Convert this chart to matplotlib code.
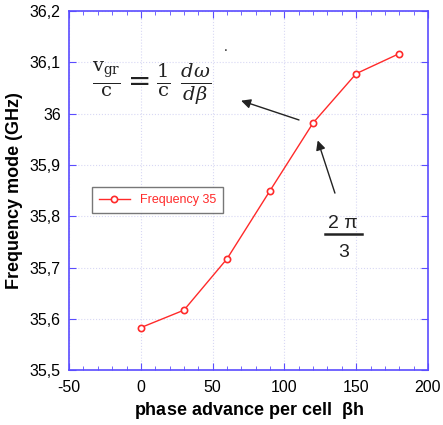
import matplotlib.pyplot as plt
from matplotlib.ticker import FuncFormatter, MultipleLocator

plt.rcParams['font.family'] = ['Liberation Sans', 'DejaVu Sans']
plt.rcParams['mathtext.fontset'] = 'dejavuserif'

# phase advance (deg) and frequency (GHz)
phase = [0, 30, 60, 90, 120, 150, 180]
freq = [35.583, 35.617, 35.717, 35.850, 35.982, 36.078, 36.117]
series_name = 'Frequency 35'

spine_col = '#5a4cff'
red = '#ff2a2a'
dark = '#222222'

fig = plt.figure(figsize=(4.43, 4.25), dpi=100)
ax = fig.add_axes([0.156, 0.129, 0.810, 0.845])

ax.plot(phase, freq, color=red, lw=1, marker='o', ms=4.5, mfc='white',
        mec=red, mew=1.2, label=series_name)

ax.set_xlim(-50, 200)
ax.set_ylim(35.5, 36.2)
ax.xaxis.set_major_locator(MultipleLocator(50))
ax.xaxis.set_minor_locator(MultipleLocator(10))
ax.yaxis.set_major_locator(MultipleLocator(0.1))

def comma(v, pos):
    s = ('%.1f' % v).rstrip('0').rstrip('.')
    return s.replace('.', ',')

ax.xaxis.set_major_formatter(FuncFormatter(comma))
ax.yaxis.set_major_formatter(FuncFormatter(comma))

ax.grid(True, which='major', color='#d8d8f4', ls=':', lw=0.8)
for s in ax.spines.values():
    s.set_color(spine_col)
    s.set_linewidth(1.2)
ax.tick_params(which='both', direction='in', top=True, right=True,
               color=spine_col, labelsize=11.5)
ax.tick_params(which='major', length=5, pad=7)
ax.tick_params(axis='y', which='major', pad=6)
ax.tick_params(which='minor', length=3)

ax.set_xlabel('phase advance per cell  $\\mathregular{\\beta}$h', fontsize=13,
              fontweight='bold', labelpad=4)
ax.set_ylabel('Frequency mode (GHz)', fontsize=13, fontweight='bold', labelpad=5)

leg = ax.legend(loc='upper left', bbox_to_anchor=(0.046, 0.527), fontsize=9,
                frameon=True, fancybox=False, handlelength=2.5,
                borderpad=0.55, labelcolor=red)
leg.get_frame().set_edgecolor('#555555')
leg.get_frame().set_linewidth(1)

# equation and annotations
ax.text(-34, 36.06, r'$\frac{\mathrm{v_{gr}}}{\mathrm{c}}=\frac{1}{\mathrm{c}}\ \frac{d\omega}{d\beta}$',
        fontsize=20, ha='left', va='center', color=dark)
ax.text(58, 36.123, '.', fontsize=10, color=dark)
ax.annotate('', xy=(68, 36.027), xytext=(112, 35.986),
            arrowprops=dict(arrowstyle='-|>', color=dark, lw=1, mutation_scale=14))
ax.annotate('', xy=(122.6, 35.953), xytext=(135.8, 35.84),
            arrowprops=dict(arrowstyle='-|>', color=dark, lw=1, mutation_scale=14))
ax.text(141, 35.785, '2 \u03c0', fontsize=14, ha='center', va='center', color=dark)
ax.plot([128, 154], [35.765, 35.765], color=dark, lw=1.8)
ax.text(141, 35.73, '3', fontsize=14, ha='center', va='center', color=dark)

fig.savefig('out.png', dpi=100)
